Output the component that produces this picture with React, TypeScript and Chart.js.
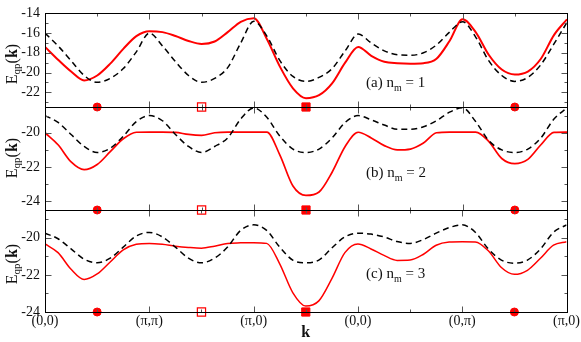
import React, { useEffect, useRef } from 'react';
import { Chart, registerables } from 'chart.js';

Chart.register(...registerables);

// ---------- data ----------
const kPoints = [0, 0.125, 0.25, 0.375, 0.5, 0.625, 0.75, 0.875, 1, 1.125, 1.25, 1.375, 1.5, 1.625, 1.75, 1.875, 2, 2.125, 2.25, 2.375, 2.5, 2.625, 2.75, 2.875, 3, 3.125, 3.25, 3.375, 3.5, 3.625, 3.75, 3.875, 4, 4.125, 4.25, 4.375, 4.5, 4.625, 4.75, 4.875, 5];

const xTickValues = [0, 1, 2, 3, 4, 5];
const xTickLabels = ['(0,0)', '(π,π)', '(π,0)', '(0,0)', '(0,π)', '(π,0)'];
const xMinorValues = [0.5, 1.5, 2.5, 3.5, 4.5];
const xTitle = 'k';

const panelARed = [-17.4, -18.7, -19.9, -20.8, -20.3, -19.1, -17.6, -16.3, -15.8, -15.9, -16.3, -16.8, -17.1, -16.85, -15.9, -14.85, -14.5, -16.6, -19.4, -21.6, -22.6, -22.3, -21.1, -19.0, -17.4, -18.3, -18.9, -19.05, -19.1, -19.05, -18.6, -16.8, -14.6, -15.9, -18.2, -19.7, -20.2, -19.9, -18.6, -16.2, -14.6];
const panelADashed = [-16.0, -17.3, -18.8, -20.3, -21.0, -20.6, -19.6, -17.9, -16.0, -17.3, -18.9, -20.3, -21.0, -20.6, -19.5, -17.0, -14.8, -16.3, -18.8, -20.4, -20.9, -20.5, -19.6, -17.8, -16.1, -17.0, -17.8, -18.2, -18.25, -18.0, -17.2, -15.9, -14.85, -16.4, -18.8, -20.3, -20.9, -20.5, -19.2, -17.1, -14.9];

const panelBRed = [-20.0, -20.7, -21.7, -22.15, -21.85, -21.1, -20.35, -19.97, -19.96, -19.96, -19.98, -20.1, -20.15, -20.0, -19.96, -19.96, -19.96, -19.96, -21.3, -23.1, -23.65, -23.45, -22.3, -20.8, -19.97, -20.3, -20.75, -21.0, -20.95, -20.6, -20.0, -19.96, -19.96, -19.96, -20.5, -21.5, -21.8, -21.55, -20.7, -19.98, -19.96];
const panelBDashed = [-19.0, -19.4, -20.1, -20.8, -21.15, -20.9, -20.2, -19.35, -19.0, -19.3, -20.1, -20.8, -21.15, -20.8, -20.3, -19.2, -18.55, -19.1, -20.2, -20.95, -21.15, -20.95, -20.3, -19.4, -19.0, -19.25, -19.55, -19.8, -19.8, -19.65, -19.3, -18.8, -18.55, -19.35, -20.45, -21.0, -21.15, -20.95, -20.3, -19.2, -18.55];

const panelCRed = [-20.33, -20.8, -21.7, -22.25, -21.95, -21.3, -20.65, -20.35, -20.3, -20.35, -20.45, -20.52, -20.56, -20.45, -20.3, -20.27, -20.26, -20.3, -21.4, -22.95, -23.68, -23.4, -22.2, -20.8, -20.33, -20.6, -20.95, -21.22, -21.2, -20.9, -20.4, -20.23, -20.21, -20.22, -20.7, -21.6, -21.97, -21.75, -21.1, -20.4, -20.21];
const panelCDashed = [-19.75, -20.05, -20.6, -21.15, -21.35, -21.1, -20.5, -19.9, -19.71, -19.95, -20.5, -21.1, -21.35, -21.1, -20.5, -19.6, -19.3, -19.6, -20.5, -21.2, -21.35, -21.2, -20.55, -19.95, -19.75, -19.8, -19.95, -20.2, -20.3, -20.1, -19.75, -19.45, -19.3, -19.7, -20.6, -21.2, -21.37, -21.2, -20.6, -19.7, -19.3];

const redSeries = [panelARed, panelBRed, panelCRed];
const dashedSeries = [panelADashed, panelBDashed, panelCDashed];

const yMins = [-23.5, -24.5, -24];
const yMaxs = [-14, -18.5, -18.5];
const yMajorTicksA = [-22, -20, -18, -16, -14];
const yMajorTicksB = [-24, -22, -20];
const yMajorTicksC = [-24, -22, -20];
const yMinorTicksA = [-23, -21, -19, -17, -15];
const yMinorTicksB = [-23, -21, -19];
const yMinorTicksC = [-23, -21, -19];
const yMajorTicks = [yMajorTicksA, yMajorTicksB, yMajorTicksC];
const yMinorTicks = [yMinorTicksA, yMinorTicksB, yMinorTicksC];

const panelTags = ['(a)', '(b)', '(c)'];
const panelNm = ['1', '2', '3'];

const circleMarkerK = [0.5, 4.5];
const openSquareMarkerK = [1.5];
const filledSquareMarkerK = [2.5];

// ---------- layout (pixels) ----------
const W = 581;
const H = 342;
const PLOT_LEFT = 45;
const PLOT_RIGHT = 567;
const panelTop = [5, 107, 210];
const panelBottom = [107, 210, 312];
const titleCenterY = [64, 158, 264];
const labelBaseline = [87, 177, 278];
const LABEL_X = 366;

const SERIF = '"Liberation Serif", "Times New Roman", serif';

function drawPieces(ctx: CanvasRenderingContext2D, pieces: { t: string; f: string; dy: number }[], startX: number, baseY: number) {
  let x = startX;
  for (const p of pieces) {
    ctx.font = p.f;
    ctx.fillText(p.t, x, baseY + p.dy);
    x += ctx.measureText(p.t).width;
  }
}
function piecesWidth(ctx: CanvasRenderingContext2D, pieces: { t: string; f: string; dy: number }[]) {
  let w = 0;
  for (const p of pieces) {
    ctx.font = p.f;
    w += ctx.measureText(p.t).width;
  }
  return w;
}

function makeFramePlugin(idx: number) {
  return {
    id: 'frame' + idx,
    afterDatasetsDraw(chart: any) {
      const { ctx, chartArea: a, scales } = chart;
      const xs = scales.x;
      const ys = scales.y;
      ctx.save();
      ctx.strokeStyle = '#555';
      ctx.lineWidth = 1;
      const tickLine = (x1: number, y1: number, x2: number, y2: number) => {
        ctx.beginPath();
        ctx.moveTo(x1, y1);
        ctx.lineTo(x2, y2);
        ctx.stroke();
      };
      const top = Math.round(a.top) + 0.5;
      const bot = Math.round(a.bottom) + 0.5;
      const left = Math.round(a.left) + 0.5;
      const right = Math.round(a.right) + 0.5;
      for (const v of xTickValues) {
        const px = Math.round(xs.getPixelForValue(v)) + 0.5;
        tickLine(px, top, px, top + 6);
        tickLine(px, bot, px, bot - 6);
      }
      for (const v of xMinorValues) {
        const px = Math.round(xs.getPixelForValue(v)) + 0.5;
        tickLine(px, top, px, top + 3);
        tickLine(px, bot, px, bot - 3);
      }
      for (const v of yMajorTicks[idx]) {
        const py = Math.round(ys.getPixelForValue(v)) + 0.5;
        tickLine(left, py, left + 6, py);
        tickLine(right, py, right - 6, py);
      }
      for (const v of yMinorTicks[idx]) {
        const py = Math.round(ys.getPixelForValue(v)) + 0.5;
        tickLine(left, py, left + 3, py);
        tickLine(right, py, right - 3, py);
      }
      ctx.strokeStyle = '#000';
      ctx.strokeRect(left, top, right - left, bot - top);

      ctx.fillStyle = '#111';
      ctx.textBaseline = 'alphabetic';
      ctx.textAlign = 'left';
      drawPieces(ctx, [
        { t: panelTags[idx] + ' n', f: '15px ' + SERIF, dy: 0 },
        { t: 'm', f: '10px ' + SERIF, dy: 4 },
        { t: ' = ' + panelNm[idx], f: '15px ' + SERIF, dy: 0 },
      ], LABEL_X, labelBaseline[idx]);

      const titlePieces = [
        { t: 'E', f: '16px ' + SERIF, dy: 0 },
        { t: 'qp', f: '11px ' + SERIF, dy: 3 },
        { t: '(', f: '16px ' + SERIF, dy: 0 },
        { t: 'k', f: 'bold 16px ' + SERIF, dy: 0 },
        { t: ')', f: '16px ' + SERIF, dy: 0 },
      ];
      ctx.save();
      ctx.translate(17, titleCenterY[idx]);
      ctx.rotate(-Math.PI / 2);
      const tw = piecesWidth(ctx, titlePieces);
      drawPieces(ctx, titlePieces, -tw / 2, 0);
      ctx.restore();

      if (idx === 2) {
        ctx.font = 'bold 16px ' + SERIF;
        ctx.textAlign = 'center';
        ctx.fillText(xTitle, (a.left + a.right) / 2, 337);
      }
      ctx.restore();
    },
  };
}

function buildChart(canvas: HTMLCanvasElement, idx: number) {
  const toPts = (arr: number[]) => kPoints.map((k, i) => ({ x: k, y: arr[i] }));
  const markerPts = (ks: number[]) => ks.map((k) => ({ x: k, y: yMins[idx] }));
  const isLast = idx === 2;
  return new Chart(canvas, {
    type: 'line',
    data: {
      datasets: [
        {
          data: toPts(dashedSeries[idx]),
          borderColor: '#000',
          borderWidth: 1.5,
          borderDash: [6, 4],
          pointRadius: 0,
          cubicInterpolationMode: 'monotone',
          fill: false,
        },
        {
          data: toPts(redSeries[idx]),
          borderColor: '#ff0000',
          borderWidth: idx === 0 ? 2 : idx === 1 ? 1.7 : 1.5,
          pointRadius: 0,
          cubicInterpolationMode: 'monotone',
          fill: false,
        },
        {
          data: markerPts(circleMarkerK),
          showLine: false,
          pointStyle: 'circle',
          pointRadius: 4,
          pointBackgroundColor: '#ff0000',
          pointBorderColor: '#ff0000',
          pointBorderWidth: 1,
          clip: false,
        },
        {
          data: markerPts(openSquareMarkerK),
          showLine: false,
          pointStyle: 'rect',
          pointRadius: 5.8,
          pointBackgroundColor: 'rgba(255,255,255,0)',
          pointBorderColor: '#ff0000',
          pointBorderWidth: 1.2,
          clip: false,
        },
        {
          data: markerPts(filledSquareMarkerK),
          showLine: false,
          pointStyle: 'rect',
          pointRadius: 5.8,
          pointBackgroundColor: '#ff0000',
          pointBorderColor: '#ff0000',
          pointBorderWidth: 1,
          clip: false,
        },
      ] as any,
    },
    options: {
      animation: false,
      responsive: false,
      events: [],
      layout: {
        padding: {
          left: 0,
          right: W - PLOT_RIGHT,
          top: panelTop[idx],
          bottom: isLast ? 0 : H - panelBottom[idx],
        },
      },
      plugins: { legend: { display: false }, tooltip: { enabled: false } },
      scales: {
        x: {
          type: 'linear',
          min: 0,
          max: 5,
          display: isLast,
          grid: { display: false, drawTicks: false },
          border: { display: false },
          afterBuildTicks: (s: any) => {
            s.ticks = xTickValues.map((v) => ({ value: v }));
          },
          afterFit: (s: any) => {
            s.height = isLast ? H - panelBottom[2] : 0;
          },
          ticks: {
            autoSkip: false,
            maxRotation: 0,
            padding: 1,
            color: '#111',
            font: { family: SERIF, size: 14 },
            callback: (_v: any, i: number) => xTickLabels[i],
          },
        },
        y: {
          type: 'linear',
          min: yMins[idx],
          max: yMaxs[idx],
          grid: { display: false, drawTicks: false },
          border: { display: false },
          afterBuildTicks: (s: any) => {
            s.ticks = yMajorTicks[idx].map((v) => ({ value: v }));
          },
          afterFit: (s: any) => {
            s.width = PLOT_LEFT;
          },
          ticks: {
            autoSkip: false,
            padding: 5,
            color: '#111',
            font: { family: SERIF, size: 14 },
            callback: (v: any) => String(v),
          },
        },
      },
    } as any,
    plugins: [makeFramePlugin(idx)],
  });
}

export default function App() {
  const r0 = useRef<HTMLCanvasElement>(null);
  const r1 = useRef<HTMLCanvasElement>(null);
  const r2 = useRef<HTMLCanvasElement>(null);

  useEffect(() => {
    const refs = [r0, r1, r2];
    const charts = refs.map((r, i) => buildChart(r.current as HTMLCanvasElement, i));
    return () => charts.forEach((c) => c.destroy());
  }, []);

  const canvasStyle: React.CSSProperties = { position: 'absolute', left: 0, top: 0, width: W, height: H };
  return (
    <div style={{ position: 'fixed', left: 0, top: 0, width: W, height: H, background: '#fff' }}>
      <canvas ref={r0} width={W} height={H} style={canvasStyle} />
      <canvas ref={r1} width={W} height={H} style={canvasStyle} />
      <canvas ref={r2} width={W} height={H} style={canvasStyle} />
    </div>
  );
}
